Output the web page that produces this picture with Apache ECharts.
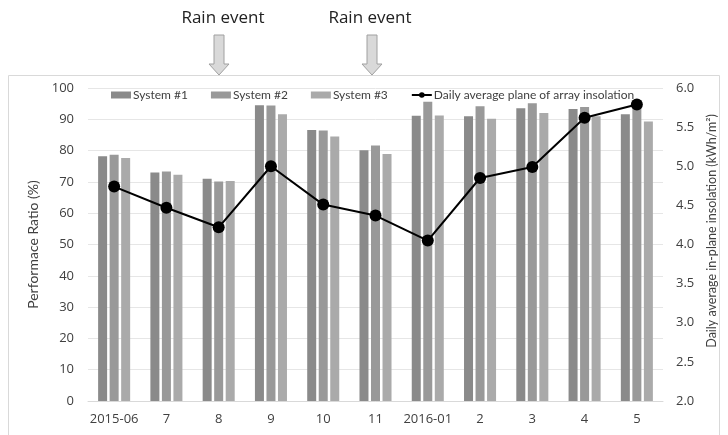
<!DOCTYPE html>
<html><head><meta charset="utf-8">
<script src="https://cdn.jsdelivr.net/npm/echarts@6/dist/echarts.min.js"></script>
<style>html,body{margin:0;padding:0;background:#fff}#c{width:728px;height:435px}</style>
</head><body><div id="c"></div>
<script>
const categories = ['2015-06','7','8','9','10','11','2016-01','2','3','4','5'];
const system1 = [78.2, 73.0, 71.0, 94.5, 86.6, 80.1, 91.1, 91.0, 93.5, 93.3, 91.6];
const system2 = [78.7, 73.3, 70.1, 94.4, 86.4, 81.6, 95.6, 94.2, 95.1, 93.9, 95.2];
const system3 = [77.6, 72.3, 70.3, 91.6, 84.5, 78.9, 91.2, 90.2, 92.0, 91.0, 89.3];
const insolation = [4.74, 4.47, 4.22, 5.00, 4.51, 4.37, 4.05, 4.85, 4.99, 5.62, 5.79];
const rainEvents = ['8', '11'];

const FONT = '"Open Sans", "Noto Sans", sans-serif';
const NARROW = 'Lato, "Open Sans", sans-serif';
const chart = echarts.init(document.getElementById('c'));
const barCommon = {type:'bar', barWidth:9, barGap:'28%', yAxisIndex:0};
chart.setOption({
  animation:false,
  textStyle:{fontFamily:FONT},
  grid:{left:88, right:65, top:88, bottom:34},
  legend:{
    left:106, top:84, itemWidth:20, itemHeight:7, itemGap:23,
    textStyle:{fontSize:12, color:'#404040', fontFamily:NARROW, padding:[0,0,0,-3]},
    data:[
      {name:'System #1', icon:'rect'},
      {name:'System #2', icon:'rect'},
      {name:'System #3', icon:'rect'},
      {name:'Daily average plane of array insolation'}
    ]
  },
  xAxis:{
    type:'category', data:categories,
    axisLine:{lineStyle:{color:'#d9d9d9'}}, axisTick:{show:false},
    axisLabel:{color:'#404040', fontSize:13, margin:12, interval:0}
  },
  yAxis:[
    {type:'value', min:0, max:100, interval:10,
     name:'Performace Ratio (%)', nameLocation:'middle', nameGap:46, nameRotate:90,
     nameTextStyle:{color:'#404040', fontSize:14, fontFamily:NARROW},
     axisLabel:{color:'#404040', fontSize:13, margin:14},
     splitLine:{lineStyle:{color:'#e6e6e6'}}, axisLine:{show:false}, axisTick:{show:false}},
    {type:'value', min:2.0, max:6.0, interval:0.5, position:'right',
     axisLabel:{color:'#404040', fontSize:13, margin:13, formatter:v=>v.toFixed(1)},
     splitLine:{show:false}, axisLine:{show:false}, axisTick:{show:false}}
  ],
  series:[
    Object.assign({name:'System #1', data:system1, itemStyle:{color:'#8a8a8a'}}, barCommon),
    Object.assign({name:'System #2', data:system2, itemStyle:{color:'#999999'}}, barCommon),
    Object.assign({name:'System #3', data:system3, itemStyle:{color:'#aaaaaa'}}, barCommon),
    {name:'Daily average plane of array insolation', type:'line', yAxisIndex:1, data:insolation,
     symbol:'circle', symbolSize:12, lineStyle:{color:'#000', width:2}, itemStyle:{color:'#000'}, z:5}
  ]
});

const graphics = [
  {type:'rect', shape:{x:8.5, y:75.5, width:711, height:370}, style:{fill:'none', stroke:'#d9d9d9', lineWidth:1}, z:-1},
  {type:'text', x:712, y:231, rotation:Math.PI/2,
   style:{text:'Daily average in-plane insolation (kWh/m\u00b2)', fill:'#404040', font:'12.5px ' + NARROW, textAlign:'center', textVerticalAlign:'middle'}}
];
const arrowOffsets = [0, -4];
const textOffsets = [4, -2];
rainEvents.forEach((c, i) => {
  const cx = Math.round(chart.convertToPixel({xAxisIndex:0}, c)) + arrowOffsets[i];
  graphics.push({type:'polygon', shape:{points:[[cx-5,35],[cx+5,35],[cx+5,64],[cx+10,64],[cx,75],[cx-10,64],[cx-5,64]]},
    style:{fill:'#d9d9d9', stroke:'#a0a0a0', lineWidth:1}});
  graphics.push({type:'text', x:cx+textOffsets[i], y:18, style:{text:'Rain event', fill:'#222', font:'17px ' + FONT, textAlign:'center', textVerticalAlign:'middle'}});
});
chart.setOption({graphic:graphics});
</script></body></html>
